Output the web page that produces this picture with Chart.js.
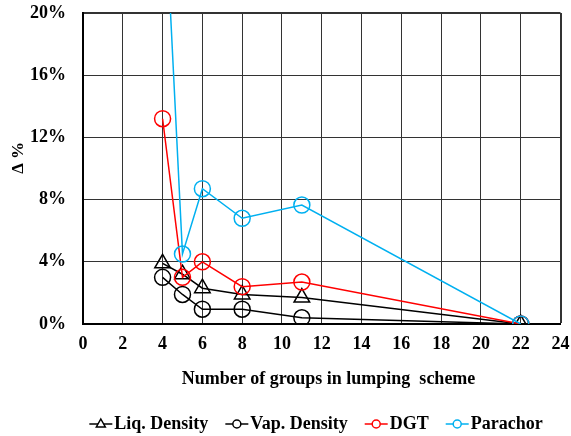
<!DOCTYPE html>
<html>
<head>
<meta charset="utf-8">
<script src="https://cdn.jsdelivr.net/npm/chart.js@4/dist/chart.umd.min.js"></script>
<style>
  html, body { margin: 0; padding: 0; background: #fff; }
  #wrap { width: 571px; height: 436px; }
</style>
</head>
<body>
<div id="wrap"><canvas id="chart"></canvas></div>
<script>
// groups in lumping scheme
const groups = [4, 5, 6, 8, 11, 22]

// deviation in %
const liqDensity = [3.9, 3.2, 2.3, 1.9, 1.7, 0]
const vapDensity = [3.0, 1.9, 0.95, 0.95, 0.4, 0]
const dgt        = [13.2, 3.0, 4.0, 2.4, 2.7, 0]
const parachor   = [30.3, 4.5, 8.7, 6.8, 7.65, 0]

const xTicks = [0, 2, 4, 6, 8, 10, 12, 14, 16, 18, 20, 22, 24]
const yTicks = [0, 4, 8, 12, 16, 20]

let zip = (xs, ys) => xs.map((x, i) => ({ x: x, y: ys[i] }))

const FONT = 'Liberation Serif, Times New Roman, serif'

function series(label, ys, color, style, order) {
  return {
    label: label,
    data: zip(groups, ys),
    borderColor: color,
    backgroundColor: 'rgba(255,255,255,0)',
    borderWidth: 1.5,
    pointStyle: style,
    pointRadius: style === 'triangle' ? 9 : 8,
    pointBorderWidth: 1.5,
    pointBorderColor: color,
    pointBackgroundColor: 'rgba(255,255,255,0)',
    showLine: true,
    order: order
  }
}

const datasets = [
  series('Liq. Density', liqDensity, '#000000', 'triangle', 4),
  series('Vap. Density', vapDensity, '#000000', 'circle', 3),
  series('DGT', dgt, '#ff0000', 'circle', 2),
  series('Parachor', parachor, '#00b0f0', 'circle', 1)
]

// legend row under the axis title: line + small marker, then the label
const lineLegend = {
  id: 'lineLegend',
  afterDraw(chart) {
    const ctx = chart.ctx
    const sets = chart.data.datasets
    const iconW = 23, iconGap = 2, itemGap = 17
    const cy = 424, centerX = 316
    ctx.save()
    ctx.font = 'bold 18px ' + FONT
    const widths = sets.map(ds => ctx.measureText(ds.label).width)
    const total = widths.reduce((a, w) => a + iconW + iconGap + w, 0) + itemGap * (sets.length - 1)
    let x = centerX - total / 2
    sets.forEach((ds, i) => {
      ctx.strokeStyle = ds.borderColor
      ctx.lineWidth = 1.5
      ctx.beginPath()
      ctx.moveTo(x, cy)
      ctx.lineTo(x + iconW, cy)
      ctx.stroke()
      const mx = x + iconW / 2
      ctx.beginPath()
      if (ds.pointStyle === 'triangle') {
        ctx.moveTo(mx, cy - 5)
        ctx.lineTo(mx + 4.5, cy + 3)
        ctx.lineTo(mx - 4.5, cy + 3)
        ctx.closePath()
      } else {
        ctx.arc(mx, cy, 4, 0, Math.PI * 2)
      }
      ctx.fillStyle = '#fff'
      ctx.fill()
      ctx.stroke()
      ctx.fillStyle = '#000'
      ctx.textAlign = 'left'
      ctx.textBaseline = 'middle'
      ctx.fillText(ds.label, x + iconW + iconGap, cy)
      x += iconW + iconGap + widths[i] + itemGap
    })
    ctx.restore()
  }
}

new Chart(document.getElementById('chart'), {
  type: 'scatter',
  data: { datasets: datasets },
  plugins: [lineLegend],
  options: {
    responsive: true,
    maintainAspectRatio: false,
    animation: false,
    layout: { padding: { top: 13, right: 10, left: 8, bottom: 43 } },
    plugins: {
      tooltip: { enabled: false },
      legend: { display: false }
    },
    scales: {
      x: {
        type: 'linear',
        min: 0,
        max: 24,
        afterBuildTicks: (axis) => { axis.ticks = xTicks.map(v => ({ value: v })) },
        afterFit: (axis) => { axis.height = 69; axis.paddingLeft = 0; axis.paddingRight = 0 },
        grid: {
          color: '#333',
          lineWidth: (c) => c.tick && c.tick.value === 24 ? 2 : 1,
          drawTicks: false
        },
        border: { color: '#000', width: 2 },
        ticks: {
          color: '#000',
          padding: 10,
          font: { family: FONT, size: 18, weight: 'bold' }
        },
        title: {
          display: true,
          text: '   Number of groups in lumping  scheme',
          color: '#000',
          padding: { top: 12, bottom: 3 },
          font: { family: FONT, size: 18, weight: 'bold' }
        }
      },
      y: {
        min: 0,
        max: 20,
        afterBuildTicks: (axis) => { axis.ticks = yTicks.map(v => ({ value: v })) },
        afterFit: (axis) => { axis.width = 75; axis.paddingTop = 0; axis.paddingBottom = 0 },
        grid: {
          color: '#333',
          lineWidth: (c) => c.tick && c.tick.value === 20 ? 2 : 1,
          drawTicks: false
        },
        border: { color: '#000', width: 2 },
        ticks: {
          color: '#000',
          padding: 17,
          callback: (v) => v + '%',
          font: { family: FONT, size: 18, weight: 'bold' }
        },
        title: {
          display: true,
          text: '     Δ %',
          color: '#000',
          padding: { top: 0, bottom: 0 },
          font: { family: FONT, size: 17, weight: 'bold' }
        }
      }
    }
  }
})
</script>
</body>
</html>
